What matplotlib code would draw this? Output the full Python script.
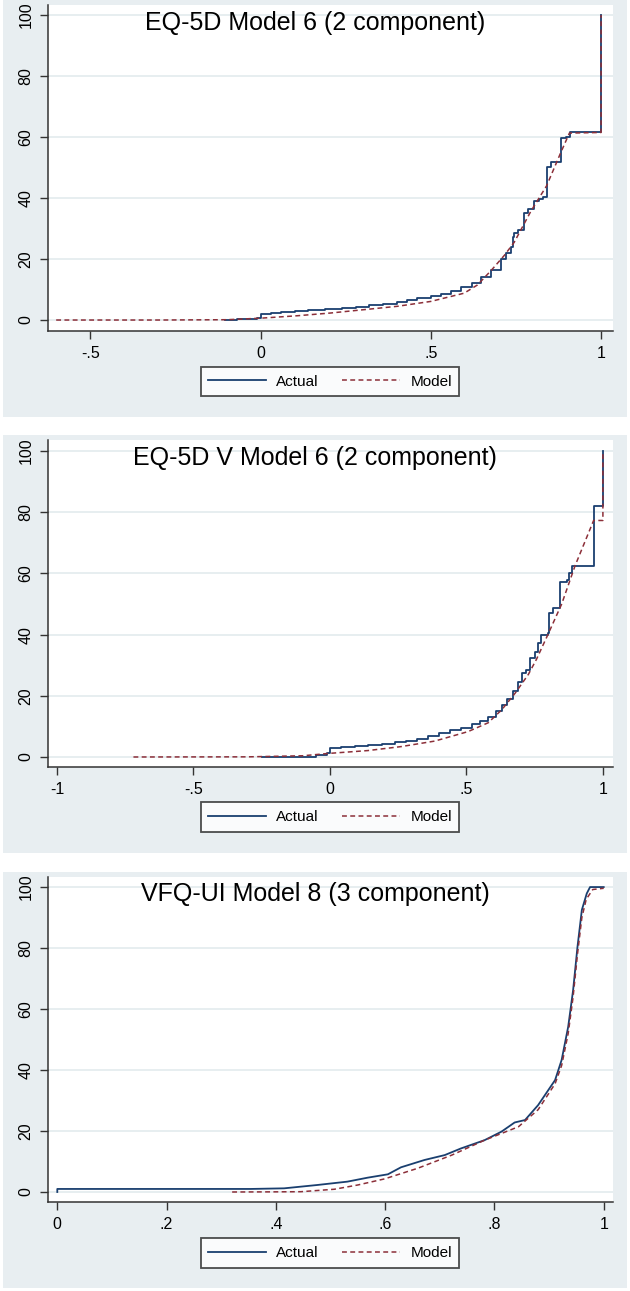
import numpy as np
import matplotlib.pyplot as plt

plt.rcParams['font.family'] = ['Liberation Sans', 'DejaVu Sans']

# Panel titles and x ticks
titles = ["EQ-5D Model 6 (2 component)",
          "EQ-5D V Model 6 (2 component)",
          "VFQ-UI Model 8 (3 component)"]
xticks_1 = [-0.5, 0, 0.5, 1]
xticks_2 = [-1, -0.5, 0, 0.5, 1]
xticks_3 = [0, 0.2, 0.4, 0.6, 0.8, 1]
xlabels_1 = ["-.5", "0", ".5", "1"]
xlabels_2 = ["-1", "-.5", "0", ".5", "1"]
xlabels_3 = ["0", ".2", ".4", ".6", ".8", "1"]
yticks = [0, 20, 40, 60, 80, 100]

# EQ-5D: actual (step starts) and model
act1_x = [-0.104, -0.07, -0.01, 0.0, 0.03, 0.06, 0.10, 0.14, 0.19, 0.24, 0.28, 0.32, 0.36,
          0.40, 0.43, 0.46, 0.50, 0.53, 0.56, 0.59, 0.62, 0.647, 0.676, 0.706, 0.72, 0.735,
          0.74, 0.745, 0.757, 0.773, 0.784, 0.802, 0.819, 0.828, 0.841, 0.853, 0.882,
          0.897, 0.910, 1.0, 1.0]
act1_y = [0.0, 0.2, 0.5, 2.0, 2.3, 2.6, 2.9, 3.2, 3.5, 3.9, 4.3, 4.8, 5.3,
          5.9, 6.6, 7.3, 7.9, 8.5, 9.5, 10.8, 12.2, 14.2, 16.4, 19.9, 22.0, 24.0,
          27.3, 28.4, 29.5, 35.0, 36.3, 39.0, 39.6, 40.4, 50.3, 51.9, 59.6,
          60.1, 61.7, 61.7, 100.0]
mod1_x = [-0.6, -0.3, -0.1, 0.0, 0.108, 0.206, 0.304, 0.402, 0.5, 0.598, 0.637, 0.676,
          0.716, 0.745, 0.794, 0.84, 0.882, 0.907, 1.0, 1.0]
mod1_y = [0.0, 0.0, 0.1, 0.6, 1.4, 2.3, 3.4, 4.5, 6.1, 8.8, 11.5, 16.1,
          21.2, 25.5, 35.7, 44.0, 55.0, 61.3, 61.5, 100.0]

# EQ-5D V: actual (step starts) and model
act2_x = [-0.25, -0.15, -0.05, -0.01, 0.0, 0.04, 0.09, 0.14, 0.19, 0.24, 0.28, 0.32, 0.36,
          0.40, 0.44, 0.48, 0.52, 0.55, 0.58, 0.61, 0.63, 0.65, 0.67, 0.69, 0.705, 0.72,
          0.733, 0.751, 0.763, 0.775, 0.80, 0.802, 0.818, 0.843, 0.868, 0.874, 0.886,
          0.966, 1.0, 1.0]
act2_y = [0.0, 0.1, 0.6, 1.2, 3.0, 3.3, 3.6, 3.9, 4.3, 4.8, 5.3, 6.0, 6.7,
          7.7, 8.7, 9.6, 10.8, 11.8, 13.0, 15.0, 17.0, 19.0, 21.5, 24.5, 27.4, 28.4,
          32.2, 34.4, 37.2, 39.9, 40.6, 47.2, 48.8, 57.3, 57.8, 60.0, 62.3,
          82.0, 82.0, 100.0]
mod2_x = [-0.72, -0.3, -0.1, 0.0, 0.139, 0.261, 0.384, 0.506, 0.58, 0.629, 0.678, 0.727,
          0.757, 0.8, 0.849, 0.898, 0.966, 1.0, 1.0]
mod2_y = [0.0, 0.05, 0.4, 1.2, 2.1, 3.4, 5.2, 8.3, 11.2, 15.4, 20.8, 27.0,
          32.0, 40.3, 50.0, 62.5, 77.3, 77.3, 100.0]

# VFQ-UI: actual and model
act3_x = [0.0, 0.0, 0.354, 0.415, 0.476, 0.531, 0.568, 0.605, 0.629, 0.672, 0.709, 0.739,
          0.782, 0.813, 0.837, 0.856, 0.88, 0.911, 0.923, 0.935, 0.944, 0.952, 0.96,
          0.969, 0.975, 1.0]
act3_y = [0.0, 1.0, 1.0, 1.2, 2.3, 3.4, 4.7, 5.8, 8.1, 10.5, 12.1, 14.3,
          17.0, 19.8, 22.8, 23.6, 28.5, 36.7, 43.3, 54.2, 66.2, 80.4, 92.5,
          97.9, 100.0, 100.0]
mod3_x = [0.32, 0.4, 0.446, 0.507, 0.55, 0.599, 0.66, 0.722, 0.782, 0.844, 0.88, 0.911,
          0.923, 0.935, 0.944, 0.952, 0.96, 0.968, 0.98, 1.0]
mod3_y = [0.0, 0.05, 0.1, 0.9, 2.3, 4.3, 7.8, 12.1, 17.0, 21.4, 27.0, 35.5,
          41.5, 52.0, 64.0, 78.0, 90.0, 96.0, 99.2, 99.6]

W, H = 630, 1291
fig = plt.figure(figsize=(W / 100, H / 100), dpi=100)
fig.patch.set_facecolor('white')

bg = '#e8eef1'
navy = '#1a3f6f'
maroon = '#8c2f39'

# pixel layout per panel: background top/bottom, plot top/bottom, ylim, xlim, title y, legend y
panels = [
    dict(bg=(0, 417), plot=(5, 331), ylim=(-3.6, 103.3), xlim=(-0.624, 1.035), ty=23, ly=381.5,
         ax_=act1_x, ay=act1_y, mx=mod1_x, my=mod1_y, xt=xticks_1, xl=xlabels_1, step=True),
    dict(bg=(435, 853), plot=(440, 767), ylim=(-3.27, 103.6), xlim=(-1.033, 1.037), ty=458, ly=817,
         ax_=act2_x, ay=act2_y, mx=mod2_x, my=mod2_y, xt=xticks_2, xl=xlabels_2, step=True),
    dict(bg=(872, 1288), plot=(877, 1202), ylim=(-3.28, 103.3), xlim=(-0.017, 1.017), ty=894, ly=1253,
         ax_=act3_x, ay=act3_y, mx=mod3_x, my=mod3_y, xt=xticks_3, xl=xlabels_3, step=False),
]

for i, p in enumerate(panels):
    b0, b1 = p['bg']
    fig.patches.append(plt.Rectangle((3 / W, 1 - b1 / H), 624 / W, (b1 - b0) / H,
                                     transform=fig.transFigure, facecolor=bg,
                                     edgecolor='none', zorder=-10))
    t, bt = p['plot']
    ax = fig.add_axes([48 / W, 1 - bt / H, 565 / W, (bt - t) / H])
    ax.set_facecolor('white')
    ax.set_xlim(p['xlim'])
    ax.set_ylim(p['ylim'])
    for yv in yticks:
        ax.axhline(yv, color='#e3ebee', lw=1.2, zorder=1)
    l1, = ax.plot(p['ax_'], p['ay'], color=navy, lw=1.3, zorder=3, label='Actual',
                  drawstyle='steps-post' if p['step'] else 'default')
    l2, = ax.plot(p['mx'], p['my'], color=maroon, lw=1.1, dashes=(3.2, 2.2), zorder=4,
                  label='Model')
    ax.set_xticks(p['xt'])
    ax.set_xticklabels(p['xl'])
    ax.set_yticks(yticks)
    ax.set_yticklabels([str(v) for v in yticks], rotation=90, va='center')
    ax.tick_params(axis='both', labelsize=11.5, length=6, width=1, color='#333333',
                   labelcolor='black', pad=4.5)
    for s in ['top', 'right']:
        ax.spines[s].set_visible(False)
    for s in ['left', 'bottom']:
        ax.spines[s].set_color('#333333')
        ax.spines[s].set_linewidth(1.1)
    fig.text(315 / W, 1 - p['ty'] / H, titles[i], ha='center', va='center', fontsize=18)
    leg = ax.legend(handles=[l1, l2], loc='center', bbox_to_anchor=(330 / W, 1 - p['ly'] / H),
                    bbox_transform=fig.transFigure, ncol=2, frameon=True, fancybox=False,
                    edgecolor='#222222', fontsize=11, handlelength=3.8, handletextpad=0.65,
                    columnspacing=1.55, borderpad=0.5, borderaxespad=0)
    leg.get_frame().set_linewidth(1.3)

fig.savefig('out.png', dpi=100, facecolor='white')
